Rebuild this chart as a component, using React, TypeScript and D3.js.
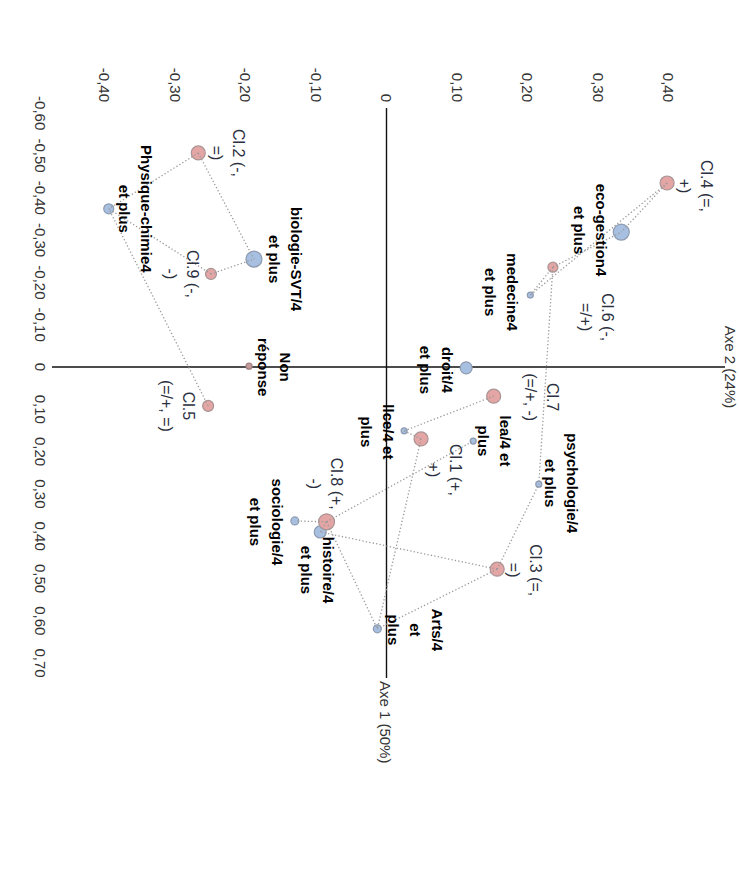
import React from "react";
import * as d3 from "d3";

// ---- data (Axe 1, Axe 2 coordinates) ----
const classNames = ["Cl.1", "Cl.2", "Cl.3", "Cl.4", "Cl.5", "Cl.6", "Cl.7", "Cl.8", "Cl.9"];
const classLabels = [
  ["Cl.1 (+,", "+)"],
  ["Cl.2 (-,", "=)"],
  ["Cl.3 (=,", "=)"],
  ["Cl.4 (=,", "+)"],
  ["Cl.5", "(=/+, =)"],
  ["Cl.6 (-,", "=/+)"],
  ["Cl.7", "(=/+, -)"],
  ["Cl.8 (+,", "-)"],
  ["Cl.9 (-,", "-)"],
];
const classAxe1 = [0.17, -0.506, 0.478, -0.435, 0.092, -0.236, 0.069, 0.366, -0.22];
const classAxe2 = [0.049, -0.267, 0.157, 0.398, -0.253, 0.236, 0.152, -0.085, -0.249];
const classWeight = [49, 49, 49, 49, 30, 25, 49, 64, 30];

const modNames = ["eco", "med", "bio", "phys", "nr", "droit", "llce", "lea", "psy", "socio", "hist", "arts"];
const modLabels = [
  ["eco-gestion4", "et plus"],
  ["medecine4", "et plus"],
  ["biologie-SVT/4", "et plus"],
  ["Physique-chimie4", "et plus"],
  ["Non", "réponse"],
  ["droit/4", "et plus"],
  ["llce/4 et", "plus"],
  ["lea/4 et", "plus"],
  ["psychologie/4", "et plus"],
  ["sociologie/4", "et plus"],
  ["histoire/4", "et plus"],
  ["Arts/4", "et", "plus"],
];
const modAxe1 = [-0.319, -0.17, -0.255, -0.374, -0.002, 0.002, 0.151, 0.175, 0.277, 0.364, 0.39, 0.619];
const modAxe2 = [0.333, 0.204, -0.188, -0.394, -0.195, 0.113, 0.025, 0.123, 0.216, -0.13, -0.094, -0.013];
const modWeight = [64, 9, 64, 25, 9, 36, 9, 9, 9, 16, 36, 16];

const links: [string, string][] = [
  ["Cl.4", "eco"], ["Cl.4", "med"], ["Cl.6", "eco"], ["Cl.6", "med"], ["Cl.6", "psy"],
  ["Cl.2", "phys"], ["Cl.2", "bio"], ["Cl.9", "bio"], ["Cl.9", "phys"], ["Cl.5", "phys"],
  ["Cl.7", "llce"], ["Cl.1", "arts"], ["Cl.1", "llce"], ["Cl.8", "lea"], ["Cl.8", "socio"],
  ["Cl.8", "hist"], ["Cl.8", "arts"], ["Cl.3", "psy"], ["Cl.3", "hist"], ["Cl.3", "arts"],
];

const axe1Ticks = [-0.6, -0.5, -0.4, -0.3, -0.2, -0.1, 0, 0.1, 0.2, 0.3, 0.4, 0.5, 0.6, 0.7];
const axe2Ticks = [-0.4, -0.3, -0.2, -0.1, 0, 0.1, 0.2, 0.3, 0.4];
const axe1Title = "Axe 1 (50%)";
const axe2Title = "Axe 2 (24%)";

// ---- layout: label offsets (px, in chart frame) ----
const classLabelPos: [number, number][] = [
  [31, -34], [0, -40], [1, -38], [3, -39], [0, 20], [50, -55], [1, -59], [-38, -10], [0, 18],
];
const modLabelPos: [number, number][] = [
  [-2, 20], [-3, 18], [0, -43], [0, -38], [1, -36], [2, 19], [1, 16], [0, -32], [-1, -34], [1, 17], [38, -8], [1, -60],
];

const W = 739;
const H = 877;
const FONT = "'Liberation Sans', Arial, sans-serif";

const fmt = (v: number) => (Math.abs(v) < 1e-9 ? "0" : v.toFixed(2).replace(".", ","));

export default function App() {
  // chart frame is rotated 90deg clockwise: frame x -> screen y, frame y -> screen (W - x)
  const x = d3.scaleLinear().domain([0, 0.1]).range([367, 409.3]);
  const y = d3.scaleLinear().domain([-0.4, 0.4]).range([634.5, 70.5]);
  const maxW = Math.max(...classWeight, ...modWeight);
  const r = d3.scaleSqrt().domain([0, maxW]).range([0, 8]);

  const pts: Record<string, { x: number; y: number }> = {};
  classNames.forEach((n, i) => (pts[n] = { x: x(classAxe1[i]), y: y(classAxe2[i]) }));
  modNames.forEach((n, i) => (pts[n] = { x: x(modAxe1[i]), y: y(modAxe2[i]) }));

  const lineGap = 22;

  return (
    <svg width={W} height={H} style={{ position: "absolute", left: 0, top: 0, background: "#fff" }} fontFamily={FONT}>
      <g transform={`translate(${W},0) rotate(90)`}>
        {/* axes */}
        <line x1={x(-0.612)} x2={x(0.735)} y1={y(0)} y2={y(0)} stroke="#111" strokeWidth={1.4} />
        <line x1={x(0)} x2={x(0)} y1={14} y2={687} stroke="#111" strokeWidth={1.4} />
        <text x={x(0.735) + 3} y={y(0) + 1} fontSize={15} fill="#333" dominantBaseline="central">{axe1Title}</text>
        <text x={x(0)} y={14} fontSize={15} fill="#333" textAnchor="middle">{axe2Title}</text>

        {/* tick labels */}
        {axe2Ticks.map((t) => (
          <text key={"a2" + t} x={102} y={y(t)} fontSize={15} fill="#333" textAnchor="end" dominantBaseline="central">{fmt(t)}</text>
        ))}
        {axe1Ticks.map((t) => (
          <text key={"a1" + t} x={x(t)} y={699} fontSize={15} fill="#333"
            textAnchor="middle" dominantBaseline="central">{fmt(t)}</text>
        ))}

        {/* points */}
        {modNames.map((n, i) => (
          <circle key={n} cx={pts[n].x} cy={pts[n].y} r={r(modWeight[i])}
            fill={n === "nr" ? "#c59a9a" : "#a7bfe0"} stroke={n === "nr" ? "#a08080" : "#8e9bb0"} strokeWidth={1.2} />
        ))}
        {classNames.map((n, i) => (
          <circle key={n} cx={pts[n].x} cy={pts[n].y} r={r(classWeight[i])}
            fill="#e4a5a5" stroke="#a89494" strokeWidth={1.2} />
        ))}

        {/* links */}
        {links.map(([a, b], i) => (
          <line key={"l" + i} x1={pts[a].x} y1={pts[a].y} x2={pts[b].x} y2={pts[b].y}
            stroke="#9a9a9a" strokeWidth={1.3} strokeDasharray="1.3,2.2" />
        ))}

        {/* labels */}
        {classNames.map((n, i) => (
          <g key={"cl" + n}>
            {classLabels[i].map((s, j) => (
              <text key={j} x={pts[n].x + classLabelPos[i][0]} y={pts[n].y + classLabelPos[i][1] + j * lineGap}
                fontSize={16} fill="#2b3040" textAnchor="middle" dominantBaseline="central">{s}</text>
            ))}
          </g>
        ))}
        {modNames.map((n, i) => (
          <g key={"ml" + n}>
            {modLabels[i].map((s, j) => (
              <text key={j} x={pts[n].x + modLabelPos[i][0]} y={pts[n].y + modLabelPos[i][1] + j * lineGap}
                fontSize={15} fontWeight="bold" fill="#000" textAnchor="middle" dominantBaseline="central">{s}</text>
            ))}
          </g>
        ))}
      </g>
    </svg>
  );
}
